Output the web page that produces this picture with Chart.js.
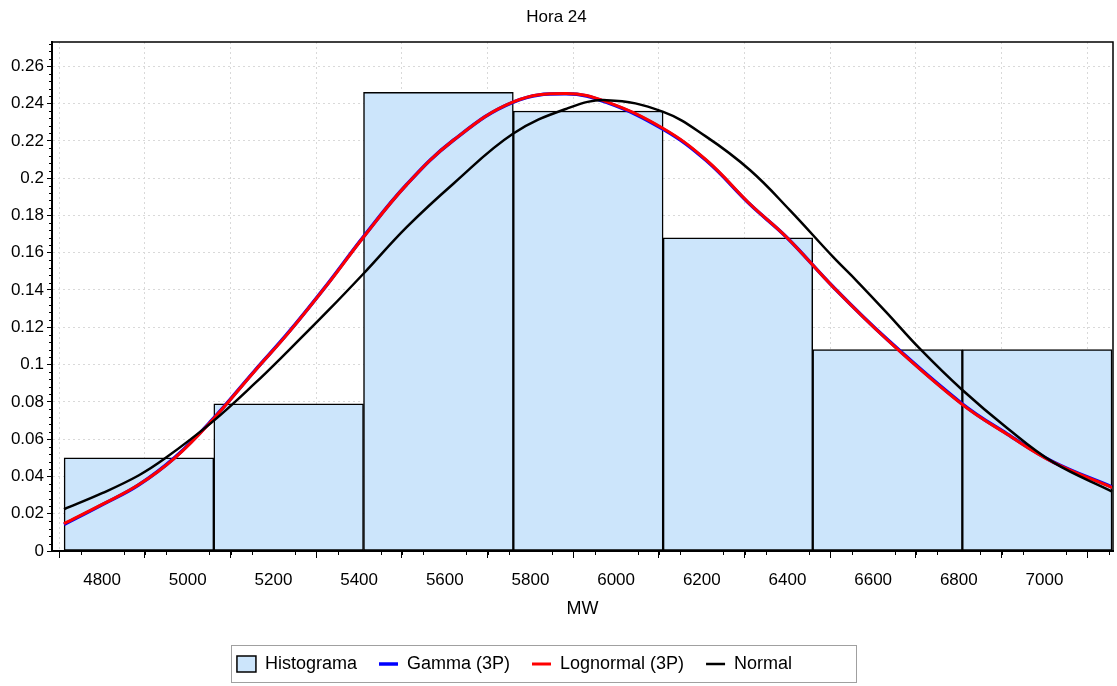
<!DOCTYPE html>
<html>
<head>
<meta charset="utf-8">
<title>Hora 24</title>
<script src="https://cdn.jsdelivr.net/npm/chart.js@4.4.0/dist/chart.umd.min.js"></script>
<style>
  html, body { margin: 0; padding: 0; background: #fff; }
</style>
</head>
<body>
<canvas id="myChart" width="1117" height="686"></canvas>
<script>
// histogram bins (MW) and relative frequency
const binEdges = [4711, 5061, 5410, 5760, 6110, 6459, 6808, 7158];
const histFreq = [0.050, 0.079, 0.246, 0.236, 0.168, 0.108, 0.108];

// fitted curves
const fitX = [4711, 4800, 4885, 4970, 5056, 5157, 5235, 5328, 5410, 5511, 5620, 5760,
              5883, 5978, 6110, 6211, 6313, 6398, 6507, 6631, 6807, 6912, 7021, 7158];
const gammaY = [0.0142, 0.0248, 0.0354, 0.0502, 0.0701, 0.0969, 0.1172, 0.1437, 0.1685, 0.1966, 0.2203, 0.2408,
                0.2452, 0.2406, 0.2262, 0.2093, 0.1858, 0.1683, 0.1416, 0.1139, 0.0791, 0.0629, 0.0477, 0.0343];
const lognormY = [0.0147, 0.0250, 0.0355, 0.050, 0.0699, 0.0967, 0.117, 0.1435, 0.1683, 0.1965, 0.2203, 0.2409,
                  0.2454, 0.2409, 0.2266, 0.2096, 0.186, 0.1683, 0.1415, 0.1137, 0.0788, 0.0627, 0.0475, 0.034];
const normalX = [4711, 4800, 4885, 4947, 5056, 5157, 5235, 5328, 5410, 5511, 5620, 5760, 5885,
                 5978, 6110, 6211, 6313, 6406, 6507, 6562, 6631, 6709, 6807, 6912, 7021, 7158];
const normalY = [0.0224, 0.0310, 0.0405, 0.0497, 0.069, 0.090, 0.1075, 0.129, 0.1487, 0.1737, 0.197, 0.2239, 0.2373,
                 0.2418, 0.2355, 0.2221, 0.2042, 0.1827, 0.1576, 0.1448, 0.128, 0.1085, 0.0866, 0.0661, 0.0475, 0.0319];

// axes
const xMin = 4683, xMax = 7160, xStep = 200, xMinorStep = 50;
const yMin = 0, yMax = 0.273, yStep = 0.02, yMinorStep = 0.004;

const seriesNames = ['Histograma', 'Gamma (3P)', 'Lognormal (3P)', 'Normal'];

Chart.defaults.font.family = "'Liberation Sans', Arial, sans-serif";
Chart.defaults.color = '#000';

const toPoints = (xs, ys) => xs.map((x, i) => ({ x: x, y: ys[i] }));
const histPoints = histFreq.map((f, i) => ({ x: (binEdges[i] + binEdges[i + 1]) / 2, y: f }));

// frame, minor ticks and legend box
const extras = {
    id: 'extras',
    afterLayout(chart) {
        // legend sits a bit left of centre in the original
        chart.legend.left -= 42;
        chart.legend.right -= 42;
    },
    afterDraw(chart) {
        const { ctx, chartArea: a, scales: { x, y } } = chart;
        ctx.save();
        ctx.strokeStyle = '#000';
        ctx.lineWidth = 1;
        ctx.beginPath();
        for (let v = Math.ceil(xMin / xMinorStep) * xMinorStep; v <= xMax; v += xMinorStep) {
            if (v % xStep === 0) continue;
            const px = Math.round(x.getPixelForValue(v)) + 0.5;
            ctx.moveTo(px, a.bottom);
            ctx.lineTo(px, a.bottom + 4);
        }
        for (let k = 1; k * yMinorStep <= yMax; k++) {
            if (k % 5 === 0) continue;
            const py = Math.round(y.getPixelForValue(k * yMinorStep)) + 0.5;
            ctx.moveTo(a.left, py);
            ctx.lineTo(a.left - 3, py);
        }
        ctx.stroke();

        ctx.lineWidth = 1.5;
        ctx.beginPath();
        ctx.moveTo(a.left, a.top);
        ctx.lineTo(a.right, a.top);
        ctx.lineTo(a.right, a.bottom);
        ctx.stroke();

        const boxes = chart.legend.legendHitBoxes;
        if (boxes && boxes.length) {
            const l = Math.min(...boxes.map(b => b.left)) - 6;
            const r = Math.max(...boxes.map(b => b.left + b.width)) + 64;
            const t = Math.min(...boxes.map(b => b.top)) - 10;
            const btm = Math.max(...boxes.map(b => b.top + b.height)) + 9;
            ctx.strokeStyle = '#a0a0a0';
            ctx.lineWidth = 1;
            ctx.strokeRect(Math.round(l) + 0.5, Math.round(t) + 0.5, Math.round(r - l), Math.round(btm - t));
        }
        ctx.restore();
    }
};

const data = {
    datasets: [
        {
            type: 'bar',
            label: seriesNames[0],
            data: histPoints,
            backgroundColor: '#cce5fb',
            borderColor: '#000',
            borderWidth: 1.5,
            borderSkipped: false,
            barThickness: 'flex',
            categoryPercentage: 1,
            barPercentage: 1,
            pointStyle: 'rect',
            order: 4
        },
        {
            type: 'line',
            label: seriesNames[1],
            data: toPoints(fitX, gammaY),
            borderColor: '#0000ff',
            backgroundColor: '#0000ff',
            borderWidth: 3.5,
            pointRadius: 0,
            tension: 0.4,
            pointStyle: 'line',
            order: 3
        },
        {
            type: 'line',
            label: seriesNames[2],
            data: toPoints(fitX, lognormY),
            borderColor: '#ff0000',
            backgroundColor: '#ff0000',
            borderWidth: 3,
            pointRadius: 0,
            tension: 0.4,
            pointStyle: 'line',
            order: 2
        },
        {
            type: 'line',
            label: seriesNames[3],
            data: toPoints(normalX, normalY),
            borderColor: '#000',
            backgroundColor: '#000',
            borderWidth: 2.5,
            pointRadius: 0,
            tension: 0.4,
            pointStyle: 'line',
            order: 1
        }
    ]
};

const config = {
    type: 'bar',
    data: data,
    options: {
        responsive: false,
        animation: false,
        devicePixelRatio: 1,
        layout: { padding: { left: 0, right: 4, top: 0, bottom: 3 } },
        plugins: {
            title: {
                display: true,
                text: 'Hora 24',
                font: { size: 17, weight: 'normal' },
                padding: { top: 7, bottom: 14.6 }
            },
            legend: {
                position: 'bottom',
                labels: {
                    usePointStyle: true,
                    pointStyleWidth: 19,
                    boxHeight: 16,
                    padding: 22,
                    font: { size: 18 },
                    sort: (a, b) => a.datasetIndex - b.datasetIndex
                }
            },
            tooltip: { enabled: false }
        },
        scales: {
            x: {
                type: 'linear',
                min: xMin,
                max: xMax,
                offset: false,
                afterFit: s => { s.height = 82; },
                ticks: {
                    stepSize: xStep,
                    includeBounds: false,
                    padding: 12,
                    maxRotation: 0,
                    font: { size: 17 },
                    callback: v => String(v)
                },
                grid: {
                    color: '#d9d9d9',
                    tickColor: '#000',
                    tickLength: 7,
                    tickWidth: 1
                },
                border: { color: '#000', width: 2, dash: [2, 3] },
                title: {
                    display: true,
                    text: 'MW',
                    font: { size: 18 },
                    padding: { top: 0, bottom: 13 }
                }
            },
            y: {
                min: yMin,
                max: yMax,
                afterFit: s => { s.width = 52; },
                ticks: {
                    stepSize: yStep,
                    includeBounds: false,
                    padding: 3,
                    font: { size: 17 },
                    callback: v => String(+v.toFixed(2))
                },
                grid: {
                    color: '#d9d9d9',
                    tickColor: '#000',
                    tickLength: 5,
                    tickWidth: 1
                },
                border: { color: '#000', width: 2, dash: [2, 3] }
            }
        }
    },
    plugins: [extras]
};

const ctx = document.getElementById('myChart').getContext('2d');
const myChart = new Chart(ctx, config);
</script>
</body>
</html>
